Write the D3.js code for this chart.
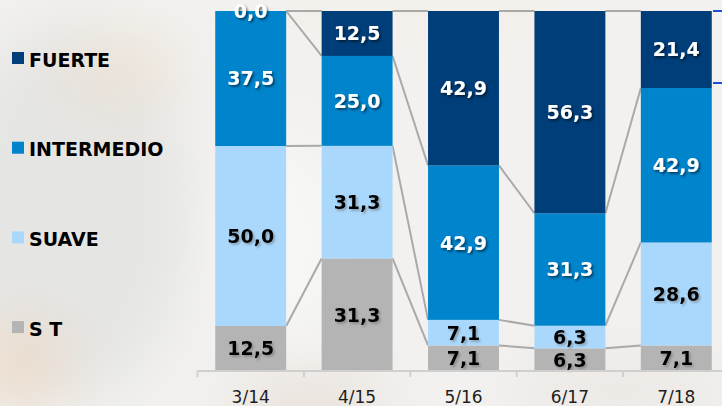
<!DOCTYPE html>
<html>
<head>
<meta charset="utf-8">
<script src="https://cdn.jsdelivr.net/npm/d3@7"></script>
<style>
  html, body { margin: 0; padding: 0; background: #f2f1ef; }
  svg { display: block; }
</style>
</head>
<body>
<svg id="chart" width="722" height="406"></svg>
<script>
// Survey periods and share (%) of each category per period
const categories = ["3/14", "4/15", "5/16", "6/17", "7/18"];
const seriesNames = ["S T", "SUAVE", "INTERMEDIO", "FUERTE"];
const st         = [12.5, 31.3, 7.1, 6.3, 7.1];
const suave      = [50.0, 31.3, 7.1, 6.3, 28.6];
const intermedio = [37.5, 25.0, 42.9, 31.3, 42.9];
const fuerte     = [0.0, 12.5, 42.9, 56.3, 21.4];

const seriesColors = ["#b4b4b4", "#aad8fc", "#0084cc", "#003e79"];
const labelInk     = ["#000000", "#000000", "#ffffff", "#ffffff"];

const W = 722, H = 406;
const svg = d3.select("#chart");

// ---- soft photographic backdrop ----
const defs = svg.append("defs");
defs.append("filter").attr("id", "soft")
  .attr("filterUnits", "userSpaceOnUse")
  .attr("x", -100).attr("y", -100).attr("width", W + 200).attr("height", H + 200)
  .append("feGaussianBlur").attr("stdDeviation", 28);

const shadowDark = defs.append("filter").attr("id", "shDark")
  .attr("x", "-20%").attr("y", "-20%").attr("width", "150%").attr("height", "150%");
shadowDark.append("feDropShadow").attr("dx", 1.6).attr("dy", 1.8)
  .attr("stdDeviation", 1).attr("flood-color", "#000").attr("flood-opacity", 0.55);
const shadowLight = defs.append("filter").attr("id", "shLight")
  .attr("x", "-20%").attr("y", "-20%").attr("width", "150%").attr("height", "150%");
shadowLight.append("feDropShadow").attr("dx", 1.6).attr("dy", 1.8)
  .attr("stdDeviation", 1).attr("flood-color", "#555").attr("flood-opacity", 0.45);

const bg = svg.append("g");
bg.append("rect").attr("width", W).attr("height", H).attr("fill", "#f2f1ef");
const blobs = bg.append("g").attr("filter", "url(#soft)");
[
  {cx: 70,  cy: 210, rx: 120, ry: 190, c: "#e5e5e3"},
  {cx: 120, cy: 70,  rx: 60,  ry: 35,  c: "#ebe2d6"},
  {cx: 20,  cy: 365, rx: 50,  ry: 45,  c: "#eadbcb"},
  {cx: 310, cy: 405, rx: 80,  ry: 25,  c: "#e6ded6"},
  {cx: 280, cy: 240, rx: 60,  ry: 100, c: "#f7f7f6"},
  {cx: 620, cy: 390, rx: 110, ry: 30,  c: "#ebe7e3"},
  {cx: 420, cy: 10,  rx: 170, ry: 20,  c: "#f4efe7"}
].forEach(b => blobs.append("ellipse")
  .attr("cx", b.cx).attr("cy", b.cy).attr("rx", b.rx).attr("ry", b.ry)
  .attr("fill", b.c));

// ---- data table & stack ----
const rows = categories.map((c, i) => ({
  cat: c,
  "S T": st[i], "SUAVE": suave[i], "INTERMEDIO": intermedio[i], "FUERTE": fuerte[i]
}));
const stacked = d3.stack().keys(seriesNames).offset(d3.stackOffsetExpand)(rows);

const x = d3.scaleBand().domain(categories)
  .range([197.5, 729.5]).paddingInner(1 / 3).paddingOuter(1 / 6);
const y = d3.scaleLinear().domain([0, 1]).range([371, 11]);
const bw = x.bandwidth();

// ---- series connector lines (behind bars) ----
const conn = svg.append("g").attr("stroke", "#a9a9a9").attr("stroke-width", 2).attr("fill", "none");
stacked.forEach(s => {
  for (let i = 0; i < categories.length - 1; i++) {
    conn.append("line")
      .attr("x1", x(categories[i]) + bw).attr("y1", y(s[i][1]))
      .attr("x2", x(categories[i + 1])).attr("y2", y(s[i + 1][1]));
  }
});

// ---- bars ----
const layers = svg.append("g").selectAll("g").data(stacked).join("g")
  .attr("fill", (d, i) => seriesColors[i]);
layers.selectAll("rect").data(d => d).join("rect")
  .attr("x", d => x(d.data.cat))
  .attr("width", bw)
  .attr("y", d => y(d[1]))
  .attr("height", d => Math.max(0, y(d[0]) - y(d[1])));

// ---- value labels ----
const fmt = v => d3.format(".1f")(v).replace(".", ",");
stacked.forEach((s, si) => {
  svg.append("g").selectAll("text").data(s).join("text")
    .attr("x", d => x(d.data.cat) + bw / 2)
    .attr("y", d => (y(d[0]) + y(d[1])) / 2)
    .attr("dy", "0.36em")
    .attr("text-anchor", "middle")
    .attr("font-family", "'DejaVu Sans', Verdana, sans-serif")
    .attr("font-weight", "bold")
    .attr("font-size", 19)
    .attr("fill", labelInk[si])
    .attr("filter", si >= 2 ? "url(#shDark)" : "url(#shLight)")
    .text(d => fmt(d.data[s.key]));
});

// ---- category axis ----
const axisG = svg.append("g").attr("transform", "translate(0,371)");
axisG.append("line")
  .attr("x1", x.range()[0]).attr("x2", W)
  .attr("stroke", "#cfcfcf").attr("stroke-width", 2);
d3.range(categories.length + 1).forEach(i => {
  const tx = x.range()[0] + i * x.step();
  axisG.append("line").attr("x1", tx).attr("x2", tx).attr("y1", 0).attr("y2", 6)
    .attr("stroke", "#cfcfcf").attr("stroke-width", 2);
});
axisG.selectAll("text.cat").data(categories).join("text")
  .attr("class", "cat")
  .attr("x", d => x(d) + bw / 2)
  .attr("y", 32)
  .attr("text-anchor", "middle")
  .attr("font-family", "'DejaVu Sans', Verdana, sans-serif")
  .attr("font-size", 17)
  .attr("fill", "#1e1e1e")
  .text(d => d);

// ---- short blue ruler marks at the right edge ----
[1, 0.8].forEach(v => svg.append("line")
  .attr("x1", 713).attr("x2", W).attr("y1", y(v)).attr("y2", y(v))
  .attr("stroke", "#1f4fd6").attr("stroke-width", 2));

// ---- legend (top to bottom: FUERTE → S T) ----
const legendOrder = seriesNames.map((n, i) => ({n, i})).reverse();
const leg = svg.append("g");
legendOrder.forEach((d, k) => {
  const cy = 58 + k * 89.7;
  leg.append("rect").attr("x", 12).attr("y", cy - 6).attr("width", 12).attr("height", 12)
    .attr("fill", seriesColors[d.i]);
  leg.append("text").attr("x", 29).attr("y", cy + 8.5)
    .attr("font-family", "'DejaVu Sans', Verdana, sans-serif")
    .attr("font-weight", "bold").attr("font-size", 19)
    .attr("fill", "#000")
    .text(d.n);
});
</script>
</body>
</html>
